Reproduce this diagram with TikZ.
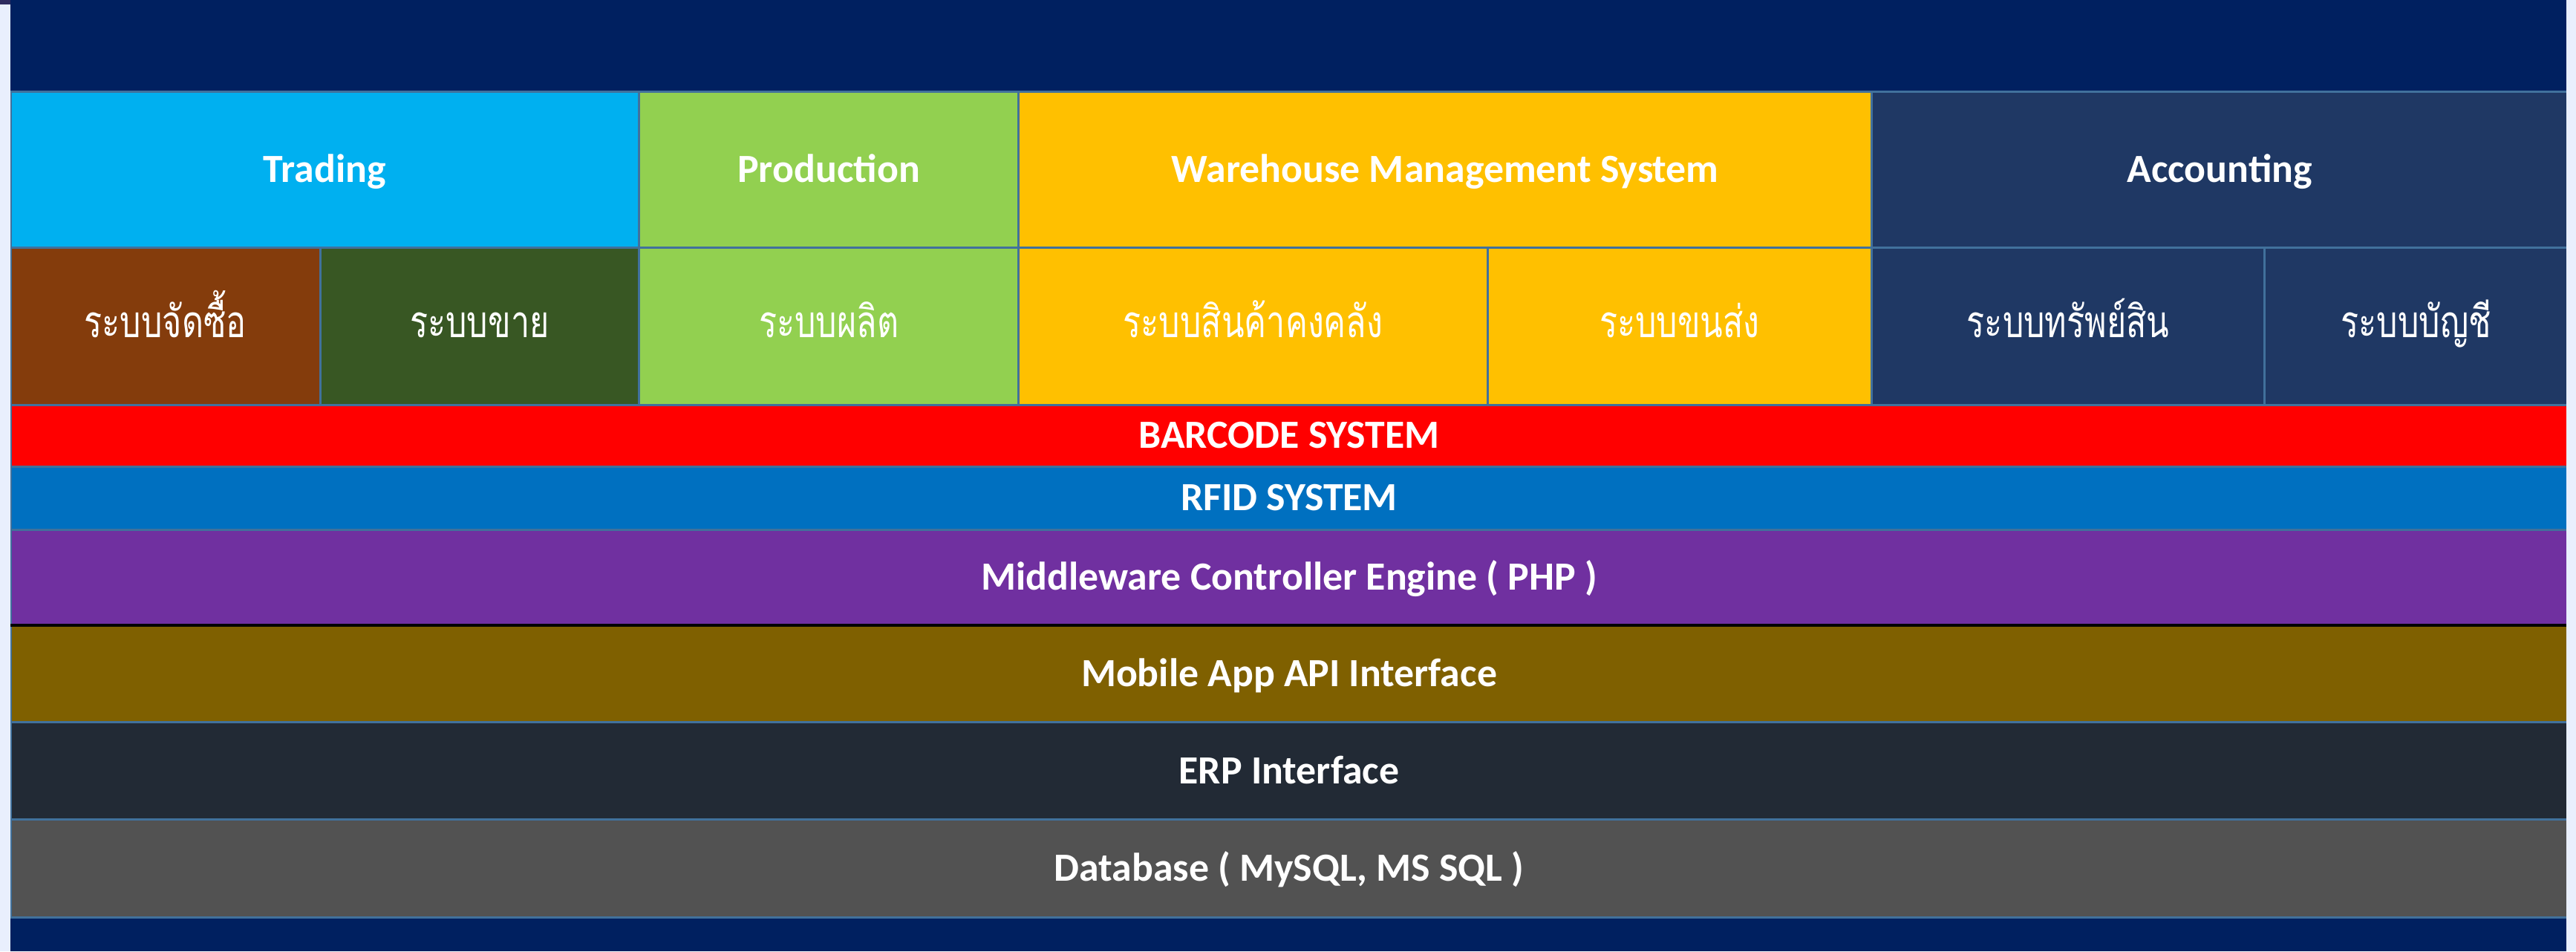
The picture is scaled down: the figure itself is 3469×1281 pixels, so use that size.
\documentclass[tikz,border=0pt]{standalone}
\usepackage{fontspec}
\setmainfont{Carlito}
\newfontfamily\thaifont[Script=Thai, FakeStretch=0.75]{Loma}
\usetikzlibrary{positioning}

\definecolor{navyband}{HTML}{002060}
\definecolor{edgestrip}{HTML}{E9EFFD}
\definecolor{cornerbit}{HTML}{2E2B5F}
\definecolor{cellline}{HTML}{41719C}
\definecolor{tradecol}{HTML}{00B0F0}
\definecolor{prodcol}{HTML}{92D050}
\definecolor{wmscol}{HTML}{FFC000}
\definecolor{acctcol}{HTML}{1F3864}
\definecolor{buycol}{HTML}{843C0C}
\definecolor{sellcol}{HTML}{385723}
\definecolor{barcol}{HTML}{FF0000}
\definecolor{rfidcol}{HTML}{0070C0}
\definecolor{midcol}{HTML}{7030A0}
\definecolor{mobcol}{HTML}{7F6000}
\definecolor{erpcol}{HTML}{222A35}
\definecolor{dbcol}{HTML}{525252}

\begin{document}
\begin{tikzpicture}[x=0.01cm, y=-0.01cm, node distance=0pt,
  cell/.style={draw=cellline, line width=0.03cm, rectangle, inner sep=0pt, outer sep=0pt, text=white},
  head/.style={cell, minimum height=2.10cm, font=\fontsize{15.3}{18}\selectfont\bfseries, text height=0.345cm, text depth=0pt},
  sub/.style={cell, minimum height=2.12cm, font=\thaifont\fontsize{17}{20}\selectfont, text height=0.30cm, text depth=0pt},
  layer/.style={cell, minimum width=34.42cm, font=\fontsize{15.3}{18}\selectfont\bfseries, text height=0.345cm, text depth=0pt}]
  \useasboundingbox (0,0) rectangle (3469,1281);

  % Top and bottom bands
  \fill[navyband] (14,0) rectangle (3456,123);
  \fill[navyband] (14,1235) rectangle (3456,1281);

  % Module headers
  \node[head, fill=tradecol, minimum width=8.46cm, anchor=north west] (trading) at (14,123) {Trading};
  \node[head, fill=prodcol, minimum width=5.11cm, right=of trading] (production) {Production};
  \node[head, fill=wmscol, minimum width=11.48cm, right=of production] (wms) {Warehouse Management System};
  \node[head, fill=acctcol, minimum width=9.37cm, right=of wms] (accounting) {Accounting};

  % Sub systems
  \node[sub, fill=buycol, minimum width=4.17cm, anchor=north west] (purchase) at (14,333) {ระบบจัดซื้อ};
  \node[sub, fill=sellcol, minimum width=4.29cm, right=of purchase] (sales) {ระบบขาย};
  \node[sub, fill=prodcol, minimum width=5.11cm, right=of sales] (produce) {ระบบผลิต};
  \node[sub, fill=wmscol, minimum width=6.31cm, right=of produce] (stock) {ระบบสินค้าคงคลัง};
  \node[sub, fill=wmscol, minimum width=5.17cm, right=of stock] (transport) {ระบบขนส่ง};
  \node[sub, fill=acctcol, minimum width=5.29cm, right=of transport] (asset) {ระบบทรัพย์สิน};
  \node[sub, fill=acctcol, minimum width=4.08cm, right=of asset] (ledger) {ระบบบัญชี};

  % Layers
  \node[layer, fill=barcol, minimum height=0.83cm, anchor=north west] (barcode) at (14,545) {BARCODE SYSTEM};
  \node[layer, fill=rfidcol, minimum height=0.85cm, below=of barcode] (rfid) {RFID SYSTEM};
  \node[layer, fill=midcol, minimum height=1.29cm, below=of rfid] (middleware) {Middleware Controller Engine ( PHP )};
  \node[layer, fill=mobcol, minimum height=1.30cm, below=of middleware] (mobileapi) {Mobile App API Interface};
  \node[layer, fill=erpcol, minimum height=1.31cm, below=of mobileapi] (erp) {ERP Interface};
  \node[layer, fill=dbcol, minimum height=1.32cm, below=of erp] (database) {Database ( MySQL, MS SQL )};

  % Dark rule under the middleware
  \draw[black, line width=0.045cm] (middleware.south west) -- (middleware.south east);

  % Side strips
  \fill[edgestrip] (0,0) rectangle (14,1281);
  \fill[edgestrip] (3456,0) rectangle (3469,1281);
  \fill[cornerbit] (0,0) rectangle (14,6);
\end{tikzpicture}
\end{document}
